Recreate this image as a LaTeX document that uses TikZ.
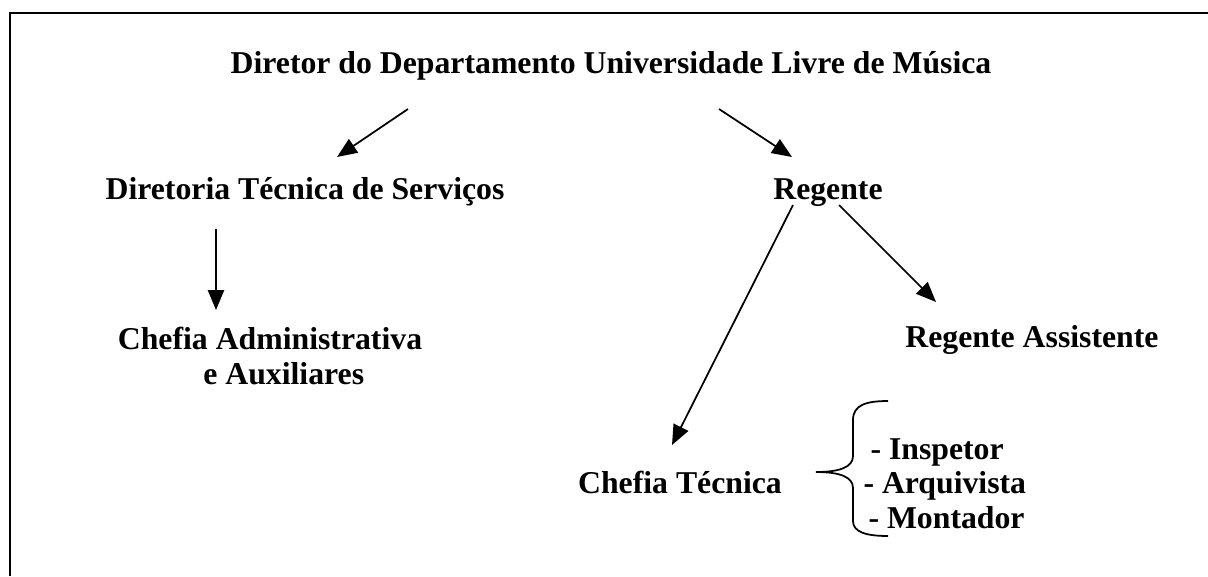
\documentclass[tikz,border=0pt]{standalone}
\usepackage{fontspec}
\setmainfont{Liberation Serif}
\usetikzlibrary{arrows.meta}

\begin{document}
\begin{tikzpicture}[x=0.4pt,y=-0.4pt,
  every node/.style={font=\fontsize{12.7}{14}\selectfont\bfseries,inner sep=0pt,anchor=base},
  seta/.style={-{Triangle[length=8pt,width=6.5pt]},line width=0.7pt}]
\useasboundingbox (0,0) rectangle (1208,576);
% moldura
\draw[line width=0.8pt] (10,576) -- (10,13) -- (1208,13);
% cargos
\node (dir) at (611,73) {Diretor do Departamento Universidade Livre de Música};
\node (dts) at (305,199) {Diretoria Técnica de Serviços};
\node (reg) at (828,199) {Regente};
\node[align=center] (cad) at (270,384) {Chefia Administrativa\\\hspace*{11pt}e Auxiliares};
\node (ras) at (1032,347) {Regente Assistente};
\node (cte) at (680,493) {Chefia Técnica};
\node[anchor=base west] (insp) at (870,459) {- Inspetor};
\node[anchor=base west] (arq) at (863,493) {- Arquivista};
\node[anchor=base west] (mont) at (868,528) {- Montador};
% pontas das setas
\coordinate (d1) at (408,109);
\coordinate (t1) at (337,157);
\coordinate (d2) at (719,109);
\coordinate (t2) at (792,157);
\coordinate (d3) at (216,229);
\coordinate (t3) at (216,310);
\coordinate (r1) at (839,205);
\coordinate (t4) at (936,302);
\coordinate (r2) at (793,205);
\coordinate (t5) at (672,445);
\draw[seta] (d1) -- (t1);
\draw[seta] (d2) -- (t2);
\draw[seta] (d3) -- (t3);
\draw[seta] (r1) -- (t4);
\draw[seta] (r2) -- (t5);
% chave
\draw[line width=0.7pt] (888,401) .. controls (866,401) and (853,405) .. (853,420) -- (853,456)
  .. controls (853,467) and (840,472) .. (816,472)
  .. controls (840,472) and (853,477) .. (853,488) -- (853,521)
  .. controls (853,532) and (866,536) .. (888,536);
\end{tikzpicture}
\end{document}
